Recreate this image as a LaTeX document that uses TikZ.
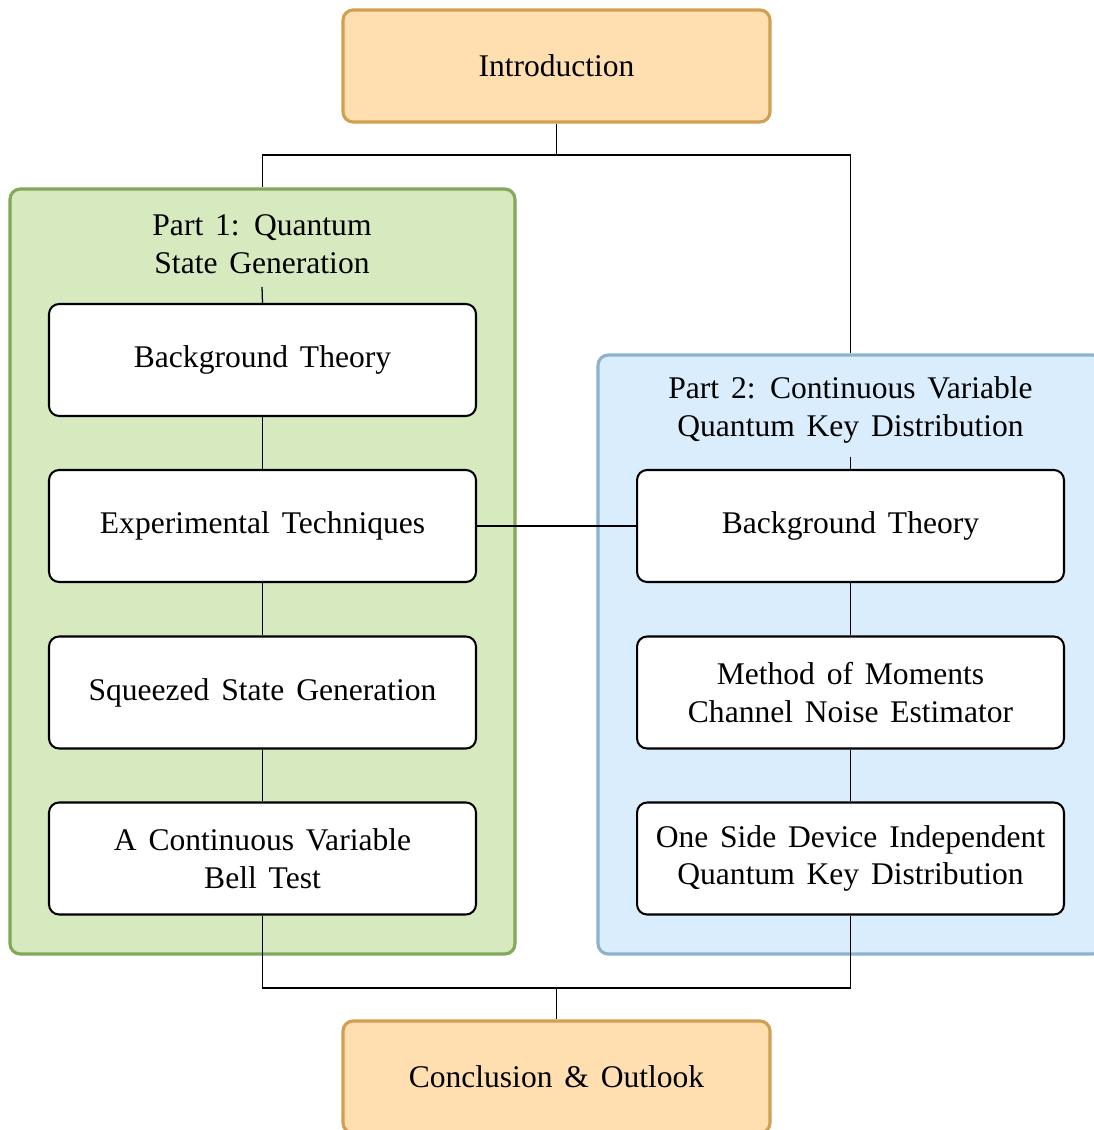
\documentclass[tikz,border=0pt]{standalone}
\usepackage{fontspec}
\setmainfont[WordSpace=1.5]{Liberation Serif}
\definecolor{peachfill}{RGB}{255,222,175}
\definecolor{peachdraw}{RGB}{210,158,82}
\definecolor{greenfill}{RGB}{214,233,191}
\definecolor{greendraw}{RGB}{130,168,90}
\definecolor{bluefill}{RGB}{218,237,252}
\definecolor{bluedraw}{RGB}{142,178,204}
\tikzset{
  endbox/.style={draw=peachdraw, fill=peachfill, line width=1pt, rounded corners=3.2pt,
    minimum width=135.3pt, minimum height=35.5pt, align=center},
  itembox/.style={draw=black, fill=white, line width=0.65pt, rounded corners=3.2pt,
    minimum width=135.3pt, minimum height=35.5pt, align=center},
  groupbox/.style={line width=1pt, rounded corners=3.2pt, minimum width=160pt},
  grouptitle/.style={align=center, inner xsep=2pt, inner ysep=4pt},
  conn/.style={draw=black, line width=0.4pt}
}
\begin{document}
\begin{tikzpicture}[x=0.3169pt, y=-0.3169pt]
\useasboundingbox (0,0) rectangle (1093,1130);
% containers
\node[groupbox, draw=greendraw, fill=greenfill, minimum height=242.4pt] (part1) at (262.5,571.5) {};
\node[groupbox, draw=bluedraw, fill=bluefill, minimum height=189.8pt] (part2) at (850.5,654.5) {};
% top and bottom
\node[endbox] (intro) at (556.5,66) {Introduction};
\node[endbox] (concl) at (556.5,1077) {Conclusion \& Outlook};
% part 1
\node[grouptitle] (t1) at (262,244) {Part 1: Quantum\\State Generation};
\node[itembox] (l1) at (262.5,360) {Background Theory};
\node[itembox] (l2) at (262.5,526) {Experimental Techniques};
\node[itembox] (l3) at (262.5,692.5) {Squeezed State Generation};
\node[itembox] (l4) at (262.5,858.5) {A Continuous Variable\\Bell Test};
% part 2
\node[grouptitle] (t2) at (850.5,410) {Part 2: Continuous Variable\\Quantum Key Distribution};
\node[itembox] (r1) at (850.5,526) {Background Theory};
\node[itembox] (r2) at (850.5,692.5) {Method of Moments\\Channel Noise Estimator};
\node[itembox] (r3) at (850.5,858.5) {One Side Device Independent\\Quantum Key Distribution};
% connectors
\coordinate (split) at (556.5,155);
\coordinate (merge) at (556.5,988);
\draw[conn] (intro.south) -- (split);
\draw[conn] (split) -| (part1.north);
\draw[conn] (split) -| (part2.north);
\draw[conn] (t1.south) -- (l1.north);
\draw[conn] (l1) -- (l2);
\draw[conn] (l2) -- (l3);
\draw[conn] (l3) -- (l4);
\draw[conn] (t2.south) -- (r1.north);
\draw[conn] (r1) -- (r2);
\draw[conn] (r2) -- (r3);
\draw[conn] (l2.east) -- (r1.west);
\draw[conn] (l4.south) |- (merge) -| (r3.south);
\draw[conn] (merge) -- (concl.north);
\end{tikzpicture}
\end{document}
